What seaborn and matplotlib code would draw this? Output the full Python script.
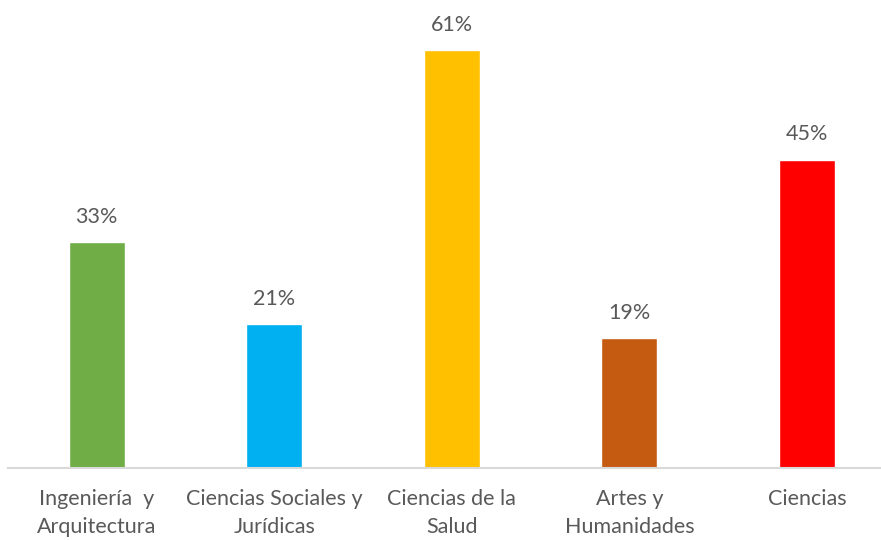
import matplotlib
matplotlib.use("Agg")
import matplotlib.pyplot as plt
import seaborn as sns
import pandas as pd

# data
categories = ["Ingeniería  y\nArquitectura", "Ciencias Sociales y\nJurídicas",
              "Ciencias de la\nSalud", "Artes y\nHumanidades", "Ciencias"]
values = [33, 21, 61, 19, 45]
colors = ["#70AD47", "#00B0F0", "#FFC000", "#C55A11", "#FF0000"]

df = pd.DataFrame({"Area": categories, "Pct": values})

sns.set_style("white")
plt.rcParams["font.family"] = ["Lato", "DejaVu Sans"]

fig = plt.figure(figsize=(8.81, 5.40), dpi=100)
ax = fig.add_axes([8 / 881, 72 / 540, 873 / 881, 468 / 540])

sns.barplot(data=df, x="Area", y="Pct", hue="Area", palette=colors,
            width=0.316, legend=False, ax=ax, saturation=1)

# value labels
for i, v in enumerate(values):
    ax.annotate(f"{v}%", (i, v), xytext=(0, 11), textcoords="offset points",
                ha="center", va="bottom", fontsize=15.5, color="#595959")

ax.set_xlim(-0.5, 4.417)
ax.set_ylim(0, 68.3)
ax.set_xlabel("")
ax.set_ylabel("")
ax.set_yticks([])
ax.tick_params(axis="x", length=0, pad=15, labelsize=15.5, labelcolor="#595959")
for lbl in ax.get_xticklabels():
    lbl.set_linespacing(1.5)

for side in ["top", "right", "left"]:
    ax.spines[side].set_visible(False)
ax.spines["bottom"].set_color("#D9D9D9")
ax.spines["bottom"].set_linewidth(1.5)

fig.savefig("out.png", dpi=100)
plt.close(fig)
